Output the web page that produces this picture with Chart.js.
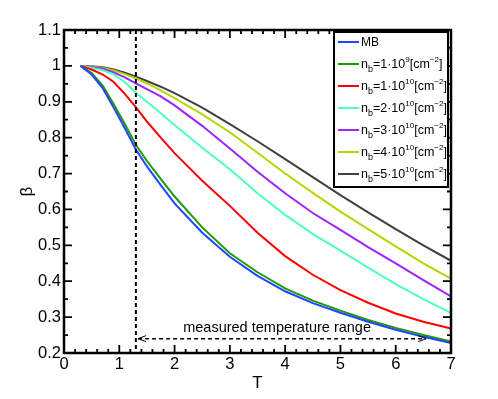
<!DOCTYPE html>
<html>
<head>
<meta charset="utf-8">
<script src="https://cdn.jsdelivr.net/npm/chart.js@4"></script>
<style>
  html, body { margin: 0; padding: 0; background: #fff; }
  #wrap { width: 498px; height: 399px; }
</style>
</head>
<body>
<div id="wrap"><canvas id="chart" width="498" height="399"></canvas></div>
<script>
// temperature grid
const T = [0.3, 0.5, 0.7, 0.9, 1.1, 1.3, 1.5, 1.75, 2, 2.5, 3, 3.5, 4, 4.5, 5, 5.5, 6, 6.5, 7];

// beta values
const betaMB  = [1.0, 0.976, 0.938, 0.883, 0.826, 0.767, 0.72, 0.668, 0.617, 0.535, 0.468, 0.415, 0.372, 0.339, 0.312, 0.287, 0.265, 0.245, 0.228];
const betaN1e9  = [1.0, 0.98, 0.945, 0.893, 0.838, 0.78, 0.735, 0.685, 0.636, 0.55, 0.478, 0.425, 0.38, 0.346, 0.318, 0.292, 0.27, 0.25, 0.232];
const betaN1e10 = [1.0, 0.99, 0.976, 0.955, 0.922, 0.885, 0.845, 0.8, 0.757, 0.68, 0.61, 0.535, 0.47, 0.418, 0.375, 0.34, 0.31, 0.287, 0.268];
const betaN2e10 = [1.0, 0.995, 0.988, 0.976, 0.955, 0.925, 0.9, 0.868, 0.835, 0.772, 0.712, 0.645, 0.585, 0.532, 0.485, 0.438, 0.392, 0.35, 0.312];
const betaN3e10 = [1.0, 0.997, 0.992, 0.982, 0.968, 0.951, 0.935, 0.915, 0.89, 0.833, 0.77, 0.705, 0.645, 0.59, 0.543, 0.495, 0.45, 0.403, 0.358];
const betaN4e10 = [1.0, 0.998, 0.994, 0.987, 0.977, 0.965, 0.951, 0.932, 0.91, 0.865, 0.815, 0.758, 0.70, 0.646, 0.594, 0.545, 0.497, 0.45, 0.407];
const betaN5e10 = [1.0, 0.999, 0.996, 0.99, 0.981, 0.97, 0.958, 0.942, 0.924, 0.884, 0.838, 0.79, 0.74, 0.69, 0.64, 0.592, 0.545, 0.5, 0.457];

// legend text pieces: n_b = coeff · 10^exp [cm^-2]
const legendCoeff = ['1', '1', '2', '3', '4', '5'];
const legendExp = ['9', '10', '10', '10', '10', '10'];
const colors = ['#2046ff', '#1f9a06', '#ff0000', '#4dffc0', '#9b25ff', '#b8d400', '#404040'];

// axis ticks
const xTicks = [0, 1, 2, 3, 4, 5, 6, 7];
const yTicks = [0.2, 0.3, 0.4, 0.5, 0.6, 0.7, 0.8, 0.9, 1, 1.1];
const measuredStart = 1.3;
const rangeArrow = [1.34, 6.55];
const rangeArrowY = 0.24;

const allSeries = [betaMB, betaN1e9, betaN1e10, betaN2e10, betaN3e10, betaN4e10, betaN5e10];

const datasets = allSeries.map((vals, i) => ({
  data: T.map((t, j) => ({ x: t, y: vals[j] })),
  borderColor: colors[i],
  borderWidth: 2,
  pointRadius: 0,
  tension: 0,
  fill: false,
}));

const FONT = '"Liberation Sans", Arial, sans-serif';

const decorations = {
  id: 'decorations',
  afterDatasetsDraw(chart) {
    const ctx = chart.ctx;
    const xs = chart.scales.x, ys = chart.scales.y;
    const a = chart.chartArea;
    ctx.save();

    // vertical dashed line at start of measured range
    ctx.strokeStyle = '#000';
    ctx.lineWidth = 2;
    ctx.setLineDash([4, 3]);
    const xv = xs.getPixelForValue(measuredStart);
    ctx.beginPath();
    ctx.moveTo(xv, a.top);
    ctx.lineTo(xv, a.bottom);
    ctx.stroke();

    // horizontal dashed arrow
    const x1 = xs.getPixelForValue(rangeArrow[0]);
    const x2 = xs.getPixelForValue(rangeArrow[1]);
    const yy = ys.getPixelForValue(rangeArrowY);
    ctx.lineWidth = 1.5;
    ctx.setLineDash([4, 3]);
    ctx.beginPath();
    ctx.moveTo(x1, yy);
    ctx.lineTo(x2, yy);
    ctx.stroke();
    ctx.setLineDash([]);
    ctx.lineWidth = 1;
    ctx.beginPath();
    ctx.moveTo(x1 + 8, yy - 3); ctx.lineTo(x1, yy); ctx.lineTo(x1 + 8, yy + 3);
    ctx.moveTo(x2 - 8, yy - 3); ctx.lineTo(x2, yy); ctx.lineTo(x2 - 8, yy + 3);
    ctx.stroke();

    ctx.fillStyle = '#000';
    ctx.font = '14.5px ' + FONT;
    ctx.textAlign = 'center';
    ctx.textBaseline = 'alphabetic';
    ctx.fillText('measured temperature range', (x1 + x2) / 2 - 5, yy - 7);

    // frame
    ctx.lineWidth = 2.5;
    ctx.strokeRect(a.left, a.top, a.right - a.left, a.bottom - a.top);

    // ticks (inward, all four sides)
    ctx.lineWidth = 1.8;
    ctx.beginPath();
    for (let v = 0; v <= 7.001; v += 0.2) {
      const major = Math.abs(v - Math.round(v)) < 1e-6;
      const len = major ? 8 : 4;
      const px = xs.getPixelForValue(v);
      ctx.moveTo(px, a.bottom); ctx.lineTo(px, a.bottom - len);
      ctx.moveTo(px, a.top); ctx.lineTo(px, a.top + len);
    }
    for (let k = 0; k <= 18; k++) {
      const v = 0.2 + k * 0.05;
      const len = k % 2 === 0 ? 8 : 4;
      const py = ys.getPixelForValue(v);
      ctx.moveTo(a.left, py); ctx.lineTo(a.left + len, py);
      ctx.moveTo(a.right, py); ctx.lineTo(a.right - len, py);
    }
    ctx.stroke();

    // tick labels
    ctx.font = '16.5px ' + FONT;
    ctx.textAlign = 'center';
    ctx.textBaseline = 'top';
    xTicks.forEach(v => ctx.fillText(String(v), xs.getPixelForValue(v), a.bottom + 3));
    ctx.textAlign = 'right';
    ctx.textBaseline = 'middle';
    yTicks.forEach(v => ctx.fillText(String(v), a.left - 3, ys.getPixelForValue(v)));

    // axis titles
    ctx.textAlign = 'center';
    ctx.textBaseline = 'middle';
    ctx.font = '17px ' + FONT;
    ctx.fillText('T', (a.left + a.right) / 2, 383);
    ctx.save();
    ctx.translate(27, (a.top + a.bottom) / 2);
    ctx.rotate(-Math.PI / 2);
    ctx.fillText('β', 0, 0);
    ctx.restore();

    // legend box
    const lx = 334, ly = 32, lw = 114, lh = 155;
    ctx.fillStyle = '#fff';
    ctx.fillRect(lx, ly, lw, lh);
    ctx.strokeStyle = '#000';
    ctx.lineWidth = 2;
    ctx.strokeRect(lx, ly, lw, lh);
    const rows = [42, 64, 86, 108, 130, 152, 174];
    rows.forEach((ry, i) => {
      ctx.strokeStyle = colors[i];
      ctx.lineWidth = 2;
      ctx.beginPath();
      ctx.moveTo(338, ry); ctx.lineTo(359, ry);
      ctx.stroke();
      ctx.fillStyle = '#000';
      ctx.textAlign = 'left';
      ctx.textBaseline = 'alphabetic';
      let x = 361;
      const base = ry + 4;
      const put = (txt, size, dy) => {
        ctx.font = size + 'px ' + FONT;
        ctx.fillText(txt, x, base + dy);
        x += ctx.measureText(txt).width;
      };
      if (i === 0) {
        put('MB', 12, 0);
      } else {
        put('n', 12.5, 0);
        put('b', 9, 4);
        put('=' + legendCoeff[i - 1] + '·10', 12.5, 0);
        put(legendExp[i - 1], 8, -6);
        put('[cm', 12.5, 0);
        put('−2', 8, -6);
        put(']', 12.5, 0);
      }
    });
    ctx.restore();
  }
};

new Chart(document.getElementById('chart'), {
  type: 'line',
  data: { datasets },
  options: {
    responsive: false,
    animation: false,
    layout: { padding: { left: 64, right: 47, top: 30, bottom: 46 } },
    plugins: { legend: { display: false }, tooltip: { enabled: false } },
    scales: {
      x: { type: 'linear', min: 0, max: 7, display: false },
      y: { type: 'linear', min: 0.2, max: 1.1, display: false },
    },
  },
  plugins: [decorations],
});
</script>
</body>
</html>
